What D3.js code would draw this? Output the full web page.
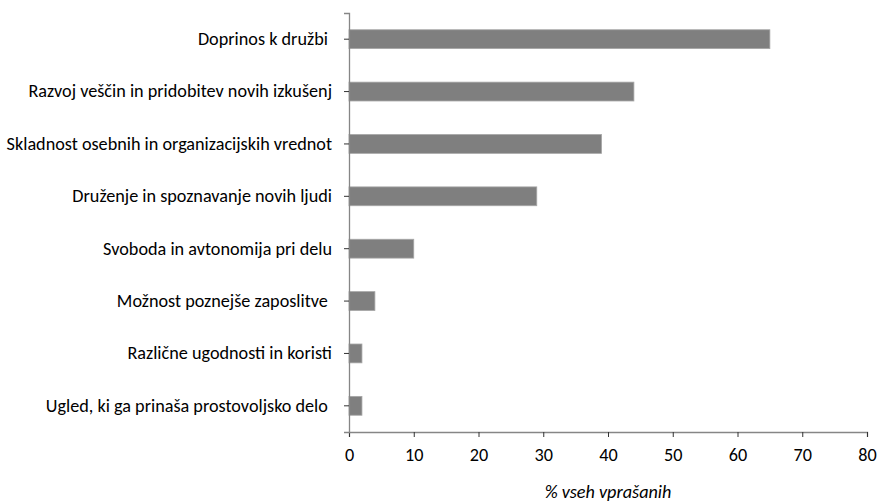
<!DOCTYPE html>
<html>
<head>
<meta charset="utf-8">
<script src="https://cdn.jsdelivr.net/npm/d3@7"></script>
<style>
  body { margin: 0; background: #fff; }
  text { font-family: Carlito, Calibri, Lato, sans-serif; fill: #000; white-space: pre; }
</style>
</head>
<body>
<div id="chart"></div>
<script>
const categories = [
    "Doprinos k družbi ",
    "Razvoj veščin in pridobitev novih izkušenj",
    "Skladnost osebnih in organizacijskih vrednot",
    "Druženje in spoznavanje novih ljudi",
    "Svoboda in avtonomija pri delu",
    "Možnost poznejše zaposlitve ",
    "Različne ugodnosti in koristi",
    "Ugled, ki ga prinaša prostovoljsko delo "
];
const values = [65, 44, 39, 29, 10, 4, 2, 2];
const xTicks = [0, 10, 20, 30, 40, 50, 60, 70, 80];
const xTitle = "% vseh vprašanih";

const width = 879, height = 504;
const margin = {top: 13, right: 12, bottom: 72, left: 349};
const innerW = width - margin.left - margin.right;
const innerH = height - margin.top - margin.bottom;
const fontSize = 18.2;

const svg = d3.select("#chart").append("svg")
    .attr("width", width)
    .attr("height", height);

const g = svg.append("g")
    .attr("transform", "translate(" + margin.left + "," + margin.top + ")");

const x = d3.scaleLinear().domain([0, 80]).range([0, innerW]);
const y = d3.scaleBand().domain(categories).range([0, innerH]).paddingInner(0.64).paddingOuter(0.32);

// bars
g.selectAll("rect.bar")
    .data(categories)
    .enter().append("rect")
    .attr("class", "bar")
    .attr("x", 0)
    .attr("y", d => y(d))
    .attr("width", (d, i) => x(values[i]))
    .attr("height", y.bandwidth())
    .attr("fill", "#7f7f7f")
    .attr("stroke", "#a6a6a6")
    .attr("stroke-width", 0.8);

// x axis
const xAxis = g.append("g")
    .attr("transform", "translate(0," + innerH + ")")
    .call(d3.axisBottom(x).tickValues(xTicks).tickSize(5).tickSizeOuter(5).tickPadding(11));
xAxis.select(".domain").attr("stroke", "#868686").attr("stroke-width", 1.3);
xAxis.selectAll(".tick line").attr("stroke", "#333");
xAxis.selectAll(".tick text").attr("font-size", fontSize).style("font-family", "Carlito, Calibri, Lato, sans-serif");

// y axis
const yAxis = g.append("g")
    .call(d3.axisLeft(y).tickSize(5).tickSizeOuter(5).tickPadding(12));
yAxis.select(".domain").attr("stroke", "#868686").attr("stroke-width", 1.3);
yAxis.selectAll(".tick line").attr("stroke", "#333");
yAxis.selectAll(".tick text").attr("font-size", fontSize).style("font-family", "Carlito, Calibri, Lato, sans-serif");

// axis title
svg.append("text")
    .attr("x", margin.left + innerW / 2)
    .attr("y", 498)
    .attr("text-anchor", "middle")
    .attr("font-size", fontSize)
    .attr("font-style", "italic")
    .text(xTitle);
</script>
</body>
</html>
